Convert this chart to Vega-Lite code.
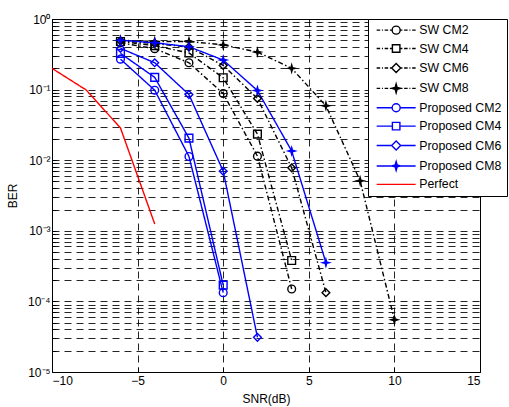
{
  "$schema": "https://vega.github.io/schema/vega-lite/v6.json",
  "width": 428,
  "height": 353,
  "autosize": {"type": "none"},
  "padding": {"left": 52, "top": 19, "right": 29, "bottom": 35},
  "background": "white",
  "config": {
    "font": "Liberation Sans",
    "view": {"stroke": "#000", "strokeWidth": 1},
    "axis": {
      "domain": false,
      "labelColor": "#000",
      "titleColor": "#000",
      "titleFontWeight": "normal",
      "labelFontSize": 12,
      "titleFontSize": 12,
      "tickColor": "#000",
      "gridColor": "#000",
      "gridOpacity": 0.85,
      "gridDash": [7, 5],
      "gridWidth": 1,
      "labelOverlap": false
    },
    "legend": {
      "labelFontSize": 12.3,
      "labelColor": "#000",
      "labelFont": "Liberation Sans",
      "strokeColor": "#000",
      "fillColor": "#fff",
      "padding": 5,
      "rowPadding": 4.4,
      "symbolSize": 100,
      "symbolStrokeWidth": 1.4,
      "symbolOpacity": 1,
      "symbolOffset": 17,
      "labelOffset": 17,
      "cornerRadius": 0
    }
  },
  "data": {
    "values": [
      {"series": "SW CM2", "snr": -6, "ber": 0.46},
      {"series": "SW CM2", "snr": -4, "ber": 0.38},
      {"series": "SW CM2", "snr": -2, "ber": 0.24},
      {"series": "SW CM2", "snr": 0, "ber": 0.088},
      {"series": "SW CM2", "snr": 2, "ber": 0.0114},
      {"series": "SW CM2", "snr": 4, "ber": 0.00015},
      {"series": "SW CM4", "snr": -6, "ber": 0.48},
      {"series": "SW CM4", "snr": -4, "ber": 0.42},
      {"series": "SW CM4", "snr": -2, "ber": 0.33},
      {"series": "SW CM4", "snr": 0, "ber": 0.147},
      {"series": "SW CM4", "snr": 2, "ber": 0.0234},
      {"series": "SW CM4", "snr": 4, "ber": 0.00038},
      {"series": "SW CM6", "snr": -6, "ber": 0.49},
      {"series": "SW CM6", "snr": -4, "ber": 0.45},
      {"series": "SW CM6", "snr": -2, "ber": 0.4},
      {"series": "SW CM6", "snr": 0, "ber": 0.22},
      {"series": "SW CM6", "snr": 2, "ber": 0.075},
      {"series": "SW CM6", "snr": 4, "ber": 0.0078},
      {"series": "SW CM6", "snr": 6, "ber": 0.000133},
      {"series": "SW CM8", "snr": -6, "ber": 0.5},
      {"series": "SW CM8", "snr": -4, "ber": 0.48},
      {"series": "SW CM8", "snr": -2, "ber": 0.48},
      {"series": "SW CM8", "snr": 0, "ber": 0.43},
      {"series": "SW CM8", "snr": 2, "ber": 0.34},
      {"series": "SW CM8", "snr": 4, "ber": 0.2},
      {"series": "SW CM8", "snr": 6, "ber": 0.059},
      {"series": "SW CM8", "snr": 8, "ber": 0.0051},
      {"series": "SW CM8", "snr": 10, "ber": 0.000055},
      {"series": "Proposed CM2", "snr": -6, "ber": 0.27},
      {"series": "Proposed CM2", "snr": -4, "ber": 0.098},
      {"series": "Proposed CM2", "snr": -2, "ber": 0.0113},
      {"series": "Proposed CM2", "snr": 0, "ber": 0.000133},
      {"series": "Proposed CM4", "snr": -6, "ber": 0.326},
      {"series": "Proposed CM4", "snr": -4, "ber": 0.149},
      {"series": "Proposed CM4", "snr": -2, "ber": 0.0205},
      {"series": "Proposed CM4", "snr": 0, "ber": 0.00017},
      {"series": "Proposed CM6", "snr": -6, "ber": 0.384},
      {"series": "Proposed CM6", "snr": -4, "ber": 0.24},
      {"series": "Proposed CM6", "snr": -2, "ber": 0.085},
      {"series": "Proposed CM6", "snr": 0, "ber": 0.007},
      {"series": "Proposed CM6", "snr": 2, "ber": 0.000031},
      {"series": "Proposed CM8", "snr": -6, "ber": 0.5},
      {"series": "Proposed CM8", "snr": -4, "ber": 0.46},
      {"series": "Proposed CM8", "snr": -2, "ber": 0.405},
      {"series": "Proposed CM8", "snr": 0, "ber": 0.262},
      {"series": "Proposed CM8", "snr": 2, "ber": 0.097},
      {"series": "Proposed CM8", "snr": 4, "ber": 0.0135},
      {"series": "Proposed CM8", "snr": 6, "ber": 0.000354},
      {"series": "Perfect", "snr": -10, "ber": 0.2},
      {"series": "Perfect", "snr": -8, "ber": 0.0986},
      {"series": "Perfect", "snr": -6, "ber": 0.0286},
      {"series": "Perfect", "snr": -4, "ber": 0.00125}
    ]
  },
  "encoding": {
    "x": {
      "field": "snr", "type": "quantitative",
      "scale": {"domain": [-10, 15], "nice": false, "zero": false},
      "axis": {"values": [-10, -5, 0, 5, 10, 15], "title": "SNR(dB)", "tickSize": -5, "labelPadding": 8, "titlePadding": 7}
    },
    "y": {
      "field": "ber", "type": "quantitative",
      "scale": {"type": "log", "domain": [0.00001, 1], "nice": false},
      "axis": {
        "values": [0.00001, 0.00002, 0.00003, 0.00004, 0.00005, 0.00006, 0.00007, 0.00008, 0.00009,
                   0.0001, 0.0002, 0.0003, 0.0004, 0.0005, 0.0006, 0.0007, 0.0008, 0.0009,
                   0.001, 0.002, 0.003, 0.004, 0.005, 0.006, 0.007, 0.008, 0.009,
                   0.01, 0.02, 0.03, 0.04, 0.05, 0.06, 0.07, 0.08, 0.09,
                   0.1, 0.2, 0.3, 0.4, 0.5, 0.6, 0.7, 0.8, 0.9, 1],
        "labelExpr": "datum.value == 1 ? '10⁰' : datum.value == 0.1 ? '10⁻¹' : datum.value == 0.01 ? '10⁻²' : datum.value == 0.001 ? '10⁻³' : datum.value == 0.0001 ? '10⁻⁴' : datum.value == 0.00001 ? '10⁻⁵' : ''",
        "title": "BER",
        "tickSize": -4,
        "labelPadding": 6,
        "titlePadding": 8
      }
    }
  },
  "layer": [
    {
      "mark": {"type": "line", "strokeWidth": 1.4},
      "encoding": {
        "stroke": {
          "field": "series", "type": "nominal", "legend": null,
          "scale": {
            "domain": ["SW CM2", "SW CM4", "SW CM6", "SW CM8", "Proposed CM2", "Proposed CM4", "Proposed CM6", "Proposed CM8", "Perfect"],
            "range": ["#000000", "#000000", "#000000", "#000000", "#0000ff", "#0000ff", "#0000ff", "#0000ff", "#ff0000"]
          }
        },
        "strokeDash": {
          "field": "series", "type": "nominal", "legend": null,
          "scale": {
            "domain": ["SW CM2", "SW CM4", "SW CM6", "SW CM8", "Proposed CM2", "Proposed CM4", "Proposed CM6", "Proposed CM8", "Perfect"],
            "range": [[5, 2.5, 1.5, 2.5], [5, 2.5, 1.5, 2.5], [5, 2.5, 1.5, 2.5], [5, 2.5, 1.5, 2.5], [1, 0], [1, 0], [1, 0], [1, 0], [1, 0]]
          }
        }
      }
    },
    {
      "transform": [{"filter": "datum.series != 'Perfect'"}],
      "mark": {"type": "point", "strokeWidth": 1.4, "opacity": 1},
      "encoding": {
        "stroke": {
          "field": "series", "type": "nominal", "legend": null,
          "scale": {
            "domain": ["SW CM2", "SW CM4", "SW CM6", "SW CM8", "Proposed CM2", "Proposed CM4", "Proposed CM6", "Proposed CM8"],
            "range": ["#000000", "#000000", "#000000", "#000000", "#0000ff", "#0000ff", "#0000ff", "#0000ff"]
          }
        },
        "fill": {
          "field": "series", "type": "nominal", "legend": null,
          "scale": {
            "domain": ["SW CM2", "SW CM4", "SW CM6", "SW CM8", "Proposed CM2", "Proposed CM4", "Proposed CM6", "Proposed CM8"],
            "range": ["transparent", "transparent", "transparent", "#000000", "transparent", "transparent", "transparent", "#0000ff"]
          }
        },
        "shape": {
          "field": "series", "type": "nominal", "legend": null,
          "scale": {
            "domain": ["SW CM2", "SW CM4", "SW CM6", "SW CM8", "Proposed CM2", "Proposed CM4", "Proposed CM6", "Proposed CM8"],
            "range": ["circle", "square", "diamond", "M0,-0.9L0.2,-0.2L0.9,0L0.2,0.2L0,0.9L-0.2,0.2L-0.9,0L-0.2,-0.2Z", "circle", "square", "diamond", "M0,-0.9L0.2,-0.2L0.9,0L0.2,0.2L0,0.9L-0.2,0.2L-0.9,0L-0.2,-0.2Z"]
          }
        },
        "size": {"value": 60}
      }
    },
    {
      "mark": {"type": "point", "opacity": 0, "strokeWidth": 1.4},
      "encoding": {
        "stroke": {
          "field": "series", "type": "nominal",
          "legend": {"orient": "none", "legendX": 316, "legendY": 0, "title": null},
          "scale": {
            "domain": ["SW CM2", "SW CM4", "SW CM6", "SW CM8", "Proposed CM2", "Proposed CM4", "Proposed CM6", "Proposed CM8", "Perfect"],
            "range": ["#000000", "#000000", "#000000", "#000000", "#0000ff", "#0000ff", "#0000ff", "#0000ff", "#ff0000"]
          }
        },
        "fill": {
          "field": "series", "type": "nominal",
          "legend": {"orient": "none", "legendX": 316, "legendY": 0, "title": null},
          "scale": {
            "domain": ["SW CM2", "SW CM4", "SW CM6", "SW CM8", "Proposed CM2", "Proposed CM4", "Proposed CM6", "Proposed CM8", "Perfect"],
            "range": ["transparent", "transparent", "transparent", "#000000", "transparent", "transparent", "transparent", "#0000ff", "transparent"]
          }
        },
        "shape": {
          "field": "series", "type": "nominal",
          "legend": {"orient": "none", "legendX": 316, "legendY": 0, "title": null},
          "scale": {
            "domain": ["SW CM2", "SW CM4", "SW CM6", "SW CM8", "Proposed CM2", "Proposed CM4", "Proposed CM6", "Proposed CM8", "Perfect"],
            "range": [
              "M-3.9,0H-3.2M-2.85,0H-2.65M-2.3,0H-1.6M-1.25,0H-0.8M0.8,0H1.25M1.6,0H2.3M2.65,0H2.85M3.2,0H3.9M-0.8,0A0.8,0.8 0 1,0 0.8,0A0.8,0.8 0 1,0 -0.8,0Z",
              "M-3.9,0H-3.2M-2.85,0H-2.65M-2.3,0H-1.6M-1.25,0H-0.75M0.75,0H1.25M1.6,0H2.3M2.65,0H2.85M3.2,0H3.9M-0.75,-0.75H0.75V0.75H-0.75Z",
              "M-3.9,0H-3.2M-2.85,0H-2.65M-2.3,0H-1.6M-1.25,0H-0.9M0.9,0H1.25M1.6,0H2.3M2.65,0H2.85M3.2,0H3.9M0,-0.9L0.9,0L0,0.9L-0.9,0Z",
              "M-3.9,0H-3.2M-2.85,0H-2.65M-2.3,0H-1.6M-1.25,0H1.25M1.6,0H2.3M2.65,0H2.85M3.2,0H3.9M0,-0.9L0.2,-0.2L0.9,0L0.2,0.2L0,0.9L-0.2,0.2L-0.9,0L-0.2,-0.2Z",
              "M-3.9,0H-0.8M0.8,0H3.9M-0.8,0A0.8,0.8 0 1,0 0.8,0A0.8,0.8 0 1,0 -0.8,0Z",
              "M-3.9,0H-0.75M0.75,0H3.9M-0.75,-0.75H0.75V0.75H-0.75Z",
              "M-3.9,0H-0.9M0.9,0H3.9M0,-0.9L0.9,0L0,0.9L-0.9,0Z",
              "M-3.9,0H3.9M0,-0.9L0.2,-0.2L0.9,0L0.2,0.2L0,0.9L-0.2,0.2L-0.9,0L-0.2,-0.2Z",
              "M-3.9,0H3.9"
            ]
          }
        }
      }
    }
  ],
  "resolve": {"scale": {"stroke": "independent", "fill": "independent", "shape": "independent", "strokeDash": "independent"}}
}
